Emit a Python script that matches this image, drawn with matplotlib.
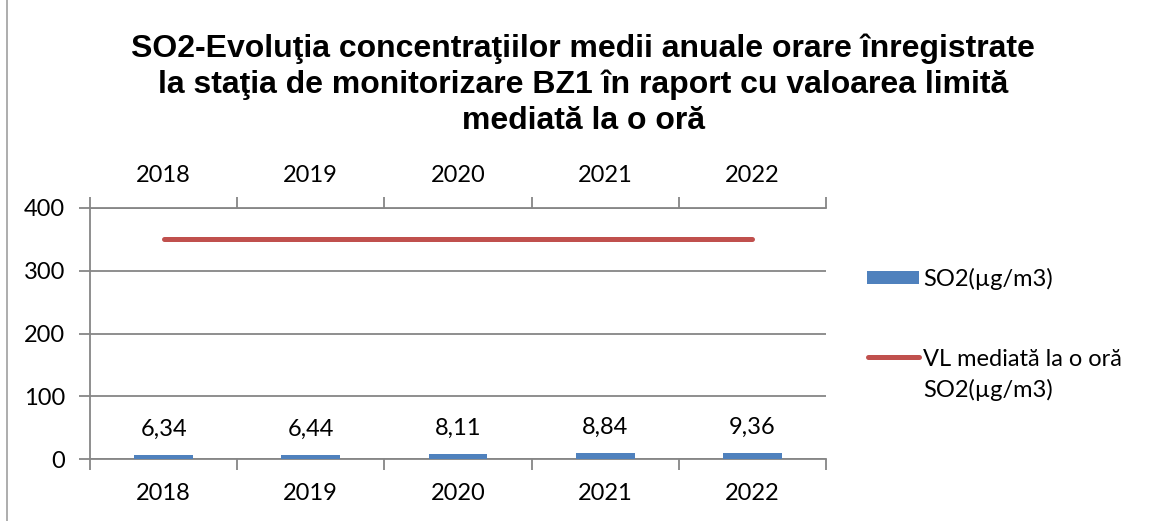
import matplotlib as mpl
mpl.use('Agg')
import matplotlib.pyplot as plt
from matplotlib.patches import Rectangle
from matplotlib.lines import Line2D
import numpy as np

years = ['2018', '2019', '2020', '2021', '2022']
so2 = [6.34, 6.44, 8.11, 8.84, 9.36]
limit = [350, 350, 350, 350, 350]
title_lines = ['SO2-Evoluţia concentraţiilor medii anuale orare înregistrate',
               'la staţia de monitorizare BZ1 în raport cu valoarea limită',
               'mediată la o oră']
legend_labels = ['SO2(µg/m3)', 'VL mediată la o oră', 'SO2(µg/m3)']

blue = '#4F81BD'
red = '#C0504D'
grey = '#868686'
font = 'Lato'
W, H = 1157, 521

fig = plt.figure(figsize=(W / 100, H / 100), dpi=100)
fig.patch.set_facecolor('white')

# left frame line of the chart area
fig.add_artist(Line2D([7 / W, 7 / W], [0, 1], transform=fig.transFigure, color='#A0A0A0', lw=1.2))

# title, one text per line so the baselines match the original
for i, line in enumerate(title_lines):
    fig.text(583 / W, 1 - (57 + 36 * i) / H, line, ha='center', va='baseline',
             fontsize=23, fontweight='bold', family='Liberation Sans')

ax = fig.add_axes([90 / W, 1 - 459 / H, 736 / W, 251 / H])
x = np.arange(len(years))

ax.bar(x, so2, width=0.4, color=blue, zorder=3)
for xi, v in zip(x, so2):
    ax.annotate(f'{v:.2f}'.replace('.', ','), (xi, v), xytext=(0, 11), textcoords='offset points',
                ha='center', va='bottom', fontsize=17, family=font)
ax.plot(x, limit, color=red, lw=3.6, solid_capstyle='round', zorder=4)

ax.set_xlim(-0.5, 4.5)
ax.set_ylim(0, 400)
ax.set_yticks([0, 100, 200, 300, 400])
ax.tick_params(axis='y', length=8, width=1.3, color=grey, labelsize=17, pad=10)
for lbl in ax.get_yticklabels():
    lbl.set_family(font)
ax.grid(axis='y', color=grey, lw=1.3, zorder=0)

ax.set_xticks(np.arange(-0.5, 5, 1))
ax.set_xticklabels([])
ax.set_xticks(x, minor=True)
ax.set_xticklabels(years, minor=True, fontsize=17, family=font)
ax.tick_params(axis='x', which='major', length=8, width=1.3, color=grey)
ax.tick_params(axis='x', which='minor', length=0, pad=17)

for s in ['top', 'right']:
    ax.spines[s].set_visible(False)
for s in ['left', 'bottom']:
    ax.spines[s].set_color(grey)
    ax.spines[s].set_linewidth(1.3)

top = ax.secondary_xaxis('top')
top.set_xticks(np.arange(-0.5, 5, 1))
top.set_xticklabels([])
top.set_xticks(x, minor=True)
top.set_xticklabels(years, minor=True, fontsize=17, family=font)
top.tick_params(axis='x', which='major', length=8, width=1.3, color=grey)
top.tick_params(axis='x', which='minor', length=0, pad=16)
top.spines['top'].set_color(grey)
top.spines['top'].set_linewidth(1.3)

# legend drawn by hand so the line key sits on the first text line, as in the original
fig.add_artist(Rectangle((867 / W, 1 - 284 / H), 52 / W, 13 / H, transform=fig.transFigure,
                         facecolor=blue, edgecolor='none'))
fig.add_artist(Line2D([868 / W, 919 / W], [1 - 357 / H, 1 - 357 / H], transform=fig.transFigure,
                      color=red, lw=3.6, solid_capstyle='round'))
for text, ypx in zip(legend_labels, [277, 357, 388]):
    fig.text(923 / W, 1 - ypx / H, text, ha='left', va='center_baseline',
             fontsize=17, family=font)

fig.savefig('out.png', dpi=100)
